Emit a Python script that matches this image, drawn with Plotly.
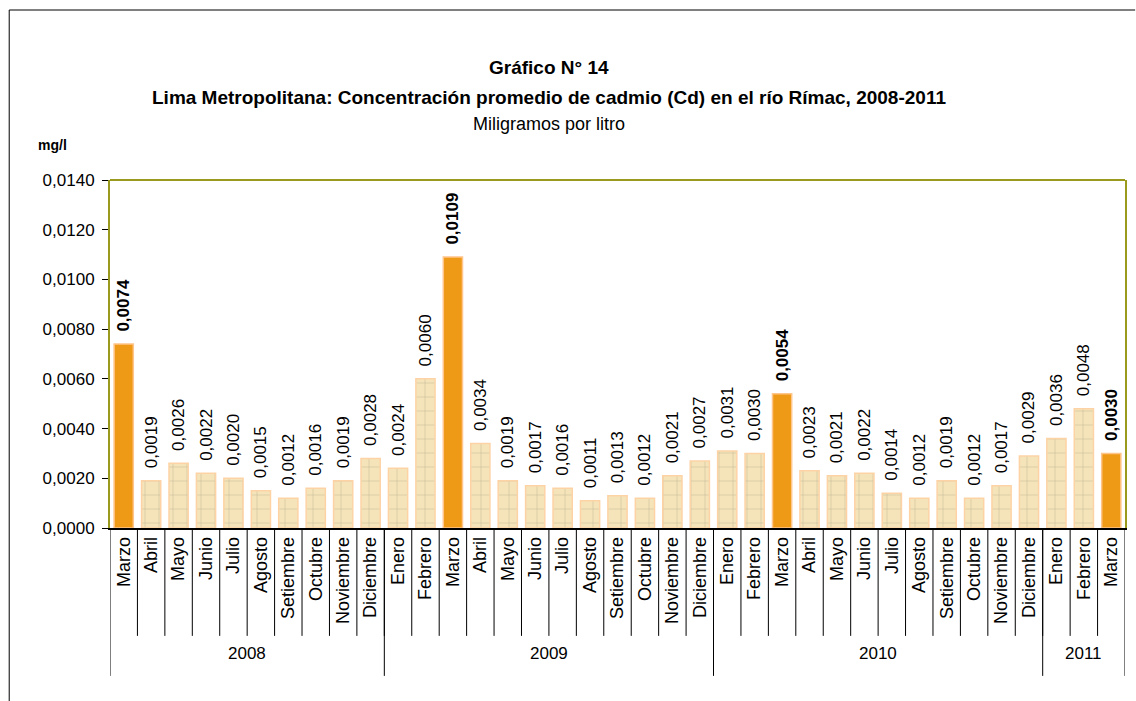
import plotly.graph_objects as go

years = ["2008"] * 10 + ["2009"] * 12 + ["2010"] * 12 + ["2011"] * 3
months = (
    ["Marzo", "Abril", "Mayo", "Junio", "Julio", "Agosto", "Setiembre", "Octubre", "Noviembre", "Diciembre"]
    + ["Enero", "Febrero", "Marzo", "Abril", "Mayo", "Junio", "Julio", "Agosto", "Setiembre", "Octubre", "Noviembre", "Diciembre"]
    + ["Enero", "Febrero", "Marzo", "Abril", "Mayo", "Junio", "Julio", "Agosto", "Setiembre", "Octubre", "Noviembre", "Diciembre"]
    + ["Enero", "Febrero", "Marzo"]
)
values = [
    0.0074, 0.0019, 0.0026, 0.0022, 0.0020, 0.0015, 0.0012, 0.0016, 0.0019, 0.0028,
    0.0024, 0.0060, 0.0109, 0.0034, 0.0019, 0.0017, 0.0016, 0.0011, 0.0013, 0.0012, 0.0021, 0.0027,
    0.0031, 0.0030, 0.0054, 0.0023, 0.0021, 0.0022, 0.0014, 0.0012, 0.0019, 0.0012, 0.0017, 0.0029,
    0.0036, 0.0048, 0.0030,
]
year_labels = ["2008", "2009", "2010", "2011"]
y_ticks = [0, 0.002, 0.004, 0.006, 0.008, 0.010, 0.012, 0.014]
y_ticktext = [f"{v:.4f}".replace(".", ",") for v in y_ticks]

FONT = "Liberation Sans, Arial, sans-serif"
cats = [f"{m} {y}" for m, y in zip(months, years)]
highlight = [m == "Marzo" for m in months]

fill = ["#EF9A17" if h else "#F5E4B9" for h in highlight]
line = ["#FFC58A" if h else "#FDD3A6" for h in highlight]
pat = ["" if h else "+" for h in highlight]
texts = []
for v, h in zip(values, highlight):
    s = f"{v:.4f}".replace(".", ",")
    texts.append("\u00a0\u00a0" + (f"<b>{s}</b>" if h else s))

fig = go.Figure()
fig.add_trace(go.Bar(
    x=cats, y=values, width=0.7,
    marker=dict(color=fill, line=dict(color=line, width=1.5),
                pattern=dict(shape=pat, fgcolor="#E2CC98", size=14, solidity=0.06, fgopacity=0.35)),
    text=texts, textposition="outside", textangle=-90,
    textfont=dict(family=FONT, size=17, color="black"),
    cliponaxis=False, constraintext="none", hoverinfo="skip",
))

n = len(cats)
shapes = []
for i in range(1, n):
    shapes.append(dict(type="line", xref="x", yref="paper", x0=i - 0.5, x1=i - 0.5,
                       y0=0, y1=-0.31, line=dict(color="black", width=1)))
bounds = [-0.5]
idx = 0
for yl in year_labels:
    idx += years.count(yl)
    bounds.append(idx - 0.5)
for b in bounds:
    shapes.append(dict(type="line", xref="x", yref="paper", x0=b, x1=b,
                       y0=0, y1=-0.425, line=dict(color="black", width=1)))
shapes.append(dict(type="line", xref="paper", yref="paper", x0=0, x1=1, y0=1, y1=1,
                   line=dict(color="#9A9A1E", width=2)))
# outer frame (top and left edges visible)
shapes.append(dict(type="line", xref="paper", yref="paper", x0=-0.0993, x1=1.01, y0=1.4885, y1=1.4885,
                   line=dict(color="black", width=1)))
shapes.append(dict(type="line", xref="paper", yref="paper", x0=-0.0993, x1=-0.0993, y0=1.4885, y1=-0.5,
                   line=dict(color="black", width=1)))

annotations = []
start = 0
for yl in year_labels:
    c = years.count(yl)
    annotations.append(dict(x=start + (c - 1) / 2, y=-0.394, xref="x", yref="paper", text=yl,
                            showarrow=False, font=dict(family=FONT, size=17, color="black")))
    start += c

annotations += [
    dict(x=0.4326, y=1.359, xref="paper", yref="paper", text="<b>Gráfico N° 14</b>",
         showarrow=False, font=dict(family=FONT, size=19, color="black")),
    dict(x=0.4326, y=1.2727, xref="paper", yref="paper",
         text="<b>Lima Metropolitana: Concentración promedio de cadmio (Cd) en el río Rímac, 2008-2011</b>",
         showarrow=False, font=dict(family=FONT, size=19, color="black")),
    dict(x=0.4326, y=1.1954, xref="paper", yref="paper", text="Miligramos por litro",
         showarrow=False, font=dict(family=FONT, size=18, color="black")),
    dict(x=-0.0728, y=1.129, xref="paper", yref="paper", text="<b>mg/l</b>",
         showarrow=False, font=dict(family=FONT, size=14, color="black")),
]

fig.update_layout(
    width=1136, height=701,
    margin=dict(l=110, r=9, t=180, b=173),
    paper_bgcolor="white", plot_bgcolor="white",
    showlegend=False,
    shapes=shapes, annotations=annotations,
    font=dict(family=FONT, size=17, color="black"),
    xaxis=dict(
        type="category", tickmode="array", tickvals=cats, ticktext=months,
        tickangle=-90, tickfont=dict(family=FONT, size=18, color="black"),
        showline=True, linecolor="black", linewidth=1.5,
        ticks="", showgrid=False, zeroline=False, range=[-0.5, n - 0.5],
    ),
    yaxis=dict(
        range=[0, 0.014], tickmode="array", tickvals=y_ticks, ticktext=y_ticktext,
        tickfont=dict(family=FONT, size=17, color="black"),
        ticks="outside", ticklen=6, tickcolor="black", tickwidth=1,
        ticklabelstandoff=4,
        showline=True, linecolor="#9A9A1E", linewidth=2, mirror=True,
        showgrid=False, zeroline=False,
    ),
)

fig.write_html("out.html", config={"displayModeBar": False},
               post_script="document.body.style.margin='0';document.body.style.overflow='hidden';")
